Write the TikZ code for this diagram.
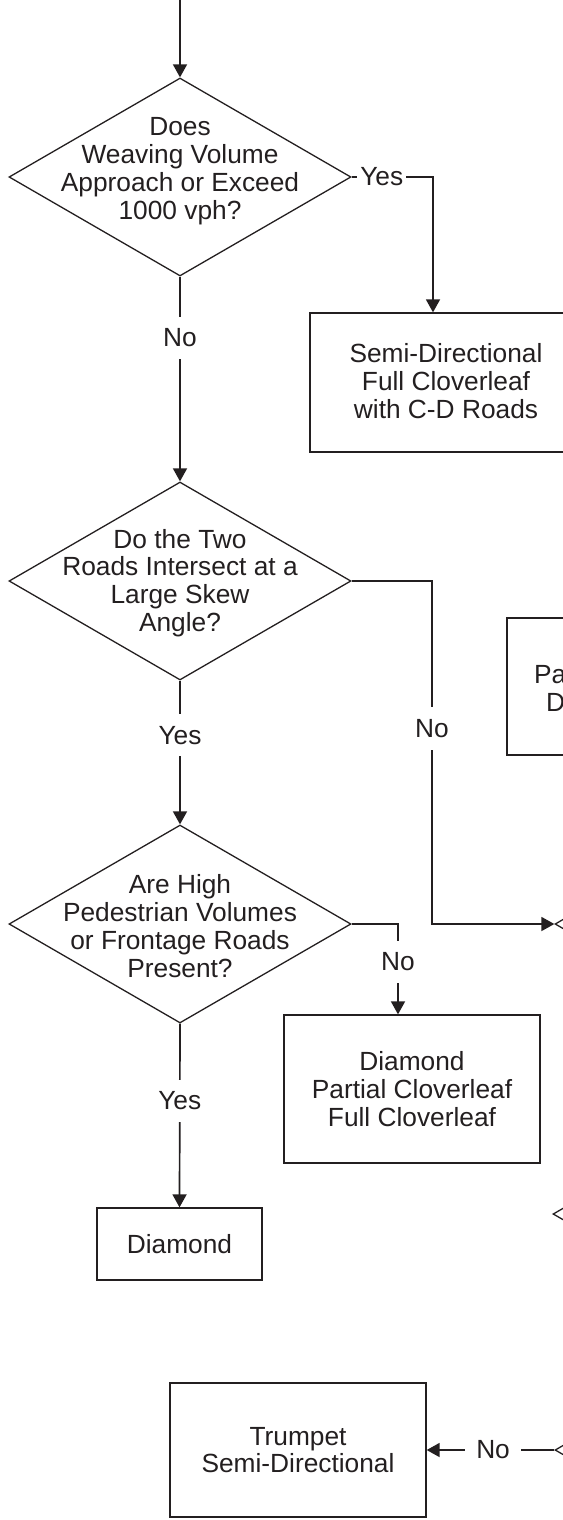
\documentclass[tikz,border=0pt]{standalone}
\usepackage{fontspec}
\setmainfont{Liberation Sans}
\usetikzlibrary{shapes.geometric,arrows.meta}
\definecolor{ink}{HTML}{231F20}
\begin{document}
\begin{tikzpicture}[x=1pt,y=1pt,
  every node/.style={font=\fontsize{26.3}{27.8}\selectfont, text=ink},
  decision/.style={draw=ink, line width=1.3pt, diamond, minimum width=342pt,
                   minimum height=198pt, inner sep=0pt},
  procbox/.style={draw=ink, line width=1.3pt, rectangle, inner sep=0pt},
  txt/.style={align=center, inner sep=0pt},
  lbl/.style={fill=white, inner xsep=4pt, inner ysep=12pt},
  flow/.style={draw=ink, line width=1.7pt, -{Triangle[length=13pt,width=14pt]}},
]
\useasboundingbox (0,0) rectangle (562,-1520);

% decisions
\node[decision] (d1) at (180,-177) {};
\node[txt] (d1t) at (180,-171) {Does\\Weaving Volume\\Approach or Exceed\\1000 vph?};
\node[decision] (d2) at (180,-581) {};
\node[txt] (d2t) at (180,-583) {Do the Two\\Roads Intersect at a\\Large Skew\\Angle?};
\node[decision] (d3) at (180,-924) {};
\node[txt] (d3t) at (180,-926) {Are High\\Pedestrian Volumes\\or Frontage Roads\\Present?};

% decisions continuing past the right margin
\node[decision] (dR1) at (726,-924) {};
\node[decision] (dR2) at (724,-1214) {};
\node[decision] (dR3) at (726,-1450) {};

% outcome boxes
\node[procbox, minimum width=280pt, minimum height=139pt] (b1) at (450,-382.5) {};
\node[txt] (b1t) at (446,-381) {Semi-Directional\\Full Cloverleaf\\with C-D Roads};
\node[procbox, minimum width=183pt, minimum height=137pt] (b5) at (598.5,-686.5) {};
\node[txt, align=left, anchor=west] (b5t) at (534,-688) {Partial Cloverleaf\\\hspace*{12pt}Diamond};
\node[procbox, minimum width=256pt, minimum height=148pt] (b2) at (412,-1089) {};
\node[txt] (b2t) at (412,-1089) {Diamond\\Partial Cloverleaf\\Full Cloverleaf};
\node[procbox, minimum width=165pt, minimum height=72pt] (b3) at (179.5,-1244) {};
\node[txt] (b3t) at (179.5,-1244) {Diamond};
\node[procbox, minimum width=256pt, minimum height=134pt] (b4) at (298,-1450) {};
\node[txt] (b4t) at (298,-1450) {Trumpet\\Semi-Directional};

% junction points
\coordinate (top) at (180,0);
\coordinate (j1) at (433,-177);
\coordinate (j2) at (432,-581);
\coordinate (j3) at (398,-924);

% connectors
\draw[flow] (top) -- (d1.north);
\draw[flow] (d1.east) -- node[lbl, pos=0.37, inner xsep=3pt]{Yes} (j1) -- (j1 |- b1.north);
\draw[flow] (d1.south) -- node[lbl, pos=0.3]{No} (d2.north);
\draw[flow] (d2.east) -- (j2) -- node[lbl, pos=0.43]{No} (j2 |- dR1.west) -- (dR1.west);
\draw[flow] (d2.south) -- node[lbl, pos=0.38]{Yes} (d3.north);
\draw[flow] (d3.east) -- (j3) -- node[lbl, pos=0.42]{No} (j3 |- b2.north);
\draw[flow] (d3.south) -- node[lbl, pos=0.42]{Yes} (b3.north);
\draw[flow] (dR3.west) -- node[lbl, pos=0.48, inner xsep=11pt]{No} (b4.east);
\end{tikzpicture}
\end{document}
